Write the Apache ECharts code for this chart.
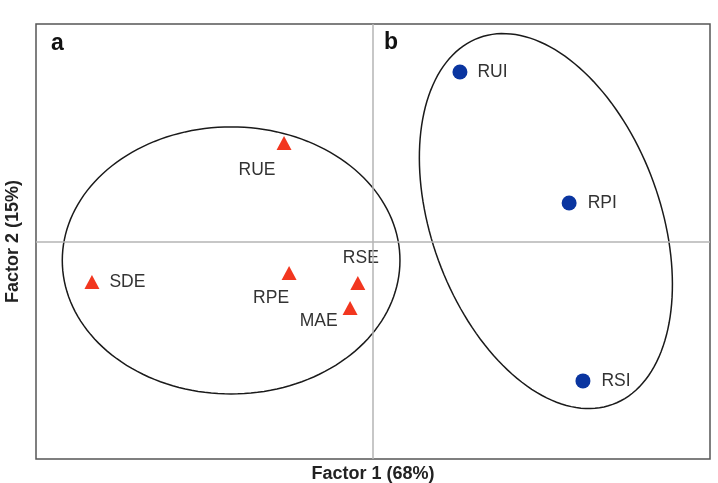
<!DOCTYPE html>
<html>
<head>
<meta charset="utf-8">
<script src="https://cdn.jsdelivr.net/npm/echarts@6/dist/echarts.min.js"></script>
<style>
  html, body { margin: 0; padding: 0; background: #fff; }
  #chart { width: 718px; height: 483px; }
</style>
</head>
<body>
<div id="chart"></div>
<script>
// group a (triangles)
const groupANames = ['RUE', 'SDE', 'RPE', 'RSE', 'MAE']
const groupAX = [-0.264, -0.834, -0.249, -0.045, -0.068]
const groupAY = [0.453, -0.186, -0.145, -0.191, -0.306]

// group b (circles)
const groupBNames = ['RUI', 'RPI', 'RSI']
const groupBX = [0.258, 0.582, 0.623]
const groupBY = [0.779, 0.177, -0.641]

// ellipses: center x, center y, first semi-axis (dx, dy), second semi-axis (dx, dy)
const ellipseA = [-0.421, -0.087, 0.501, 0, 0, 0.614]
const ellipseB = [0.513, 0.094, 0.198, -0.843, 0.319, 0.180]

const fontFamily = '"Liberation Sans", Arial, sans-serif'

// label placement per point
const labelPlace = {
  RUE: { position: 'bottom', distance: 11, offset: [-27, 0] },
  SDE: { position: 'right', distance: 10 },
  RPE: { position: 'bottom', distance: 9, offset: [-18, 0] },
  RSE: { position: 'top', distance: 9, offset: [3, 0] },
  MAE: { position: 'left', distance: 5, offset: [0, 13] },
  RUI: { position: 'right', distance: 10 },
  RPI: { position: 'right', distance: 11 },
  RSI: { position: 'right', distance: 11 }
}

const makePoints = (names, xs, ys) => names.map((n, i) => ({
  name: n,
  value: [xs[i], ys[i]],
  label: Object.assign({ show: true, formatter: '{b}' }, labelPlace[n])
}))

const renderEllipse = (params, api) => {
  const cx = api.value(0), cy = api.value(1)
  const ax = api.value(2), ay = api.value(3)
  const bx = api.value(4), by = api.value(5)
  const pts = []
  for (let i = 0; i <= 160; i++) {
    const t = i / 160 * Math.PI * 2
    pts.push(api.coord([
      cx + Math.cos(t) * ax + Math.sin(t) * bx,
      cy + Math.cos(t) * ay + Math.sin(t) * by
    ]))
  }
  return {
    type: 'polyline',
    shape: { points: pts },
    style: { fill: null, stroke: '#1a1a1a', lineWidth: 1.5 }
  }
}

const chart = echarts.init(document.getElementById('chart'))

const labelStyle = {
  color: '#333',
  fontSize: 17.5,
  fontFamily: fontFamily
}

const nameStyle = { fontSize: 18, fontWeight: 'bold', color: '#222', fontFamily: fontFamily }

chart.setOption({
  animation: false,
  grid: {
    left: 36, right: 8, top: 24, bottom: 24,
    outerBoundsMode: 'none',
    containLabel: false,
    show: true,
    borderColor: '#555',
    borderWidth: 1.5,
    backgroundColor: 'transparent'
  },
  xAxis: {
    type: 'value', min: -1, max: 1,
    name: 'Factor 1 (68%)',
    nameLocation: 'middle',
    nameGap: 6,
    nameTextStyle: nameStyle,
    axisLine: { show: false },
    axisTick: { show: false },
    axisLabel: { show: false },
    splitLine: { show: false }
  },
  yAxis: {
    type: 'value', min: -1, max: 1,
    name: 'Factor 2 (15%)',
    nameLocation: 'middle',
    nameGap: 14,
    nameTextStyle: nameStyle,
    axisLine: { show: false },
    axisTick: { show: false },
    axisLabel: { show: false },
    splitLine: { show: false }
  },
  graphic: [
    { type: 'text', left: 51, top: 32, style: { text: 'a', fill: '#111', font: 'bold 23px ' + fontFamily } },
    { type: 'text', left: 384, top: 31, style: { text: 'b', fill: '#111', font: 'bold 23px ' + fontFamily } }
  ],
  series: [
    {
      type: 'custom',
      silent: true,
      renderItem: renderEllipse,
      data: [ellipseA, ellipseB],
      z: 1,
      markLine: {
        silent: true,
        symbol: 'none',
        label: { show: false },
        lineStyle: { color: '#b4b4b4', width: 1.5, type: 'solid' },
        data: [{ xAxis: 0 }, { yAxis: 0 }]
      }
    },
    {
      type: 'scatter',
      symbol: 'triangle',
      symbolSize: [15, 14],
      itemStyle: { color: '#f2361f', opacity: 1 },
      label: labelStyle,
      data: makePoints(groupANames, groupAX, groupAY),
      z: 3
    },
    {
      type: 'scatter',
      symbol: 'circle',
      symbolSize: 15,
      itemStyle: { color: '#0a35a0', opacity: 1 },
      label: labelStyle,
      data: makePoints(groupBNames, groupBX, groupBY),
      z: 3
    }
  ]
})

window.addEventListener('resize', () => chart.resize())
</script>
</body>
</html>
